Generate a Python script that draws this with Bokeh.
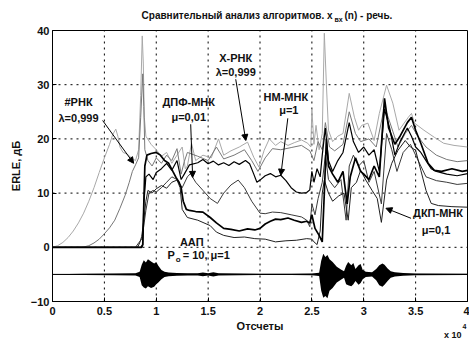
from bokeh.plotting import figure
from bokeh.layouts import column
from bokeh.models import Range1d, FixedTicker, Label, Arrow, NormalHead
from bokeh.embed import file_html
from bokeh.resources import INLINE

FONT = "Liberation Sans"

# Sample index is given in units of 10^4 samples, ERLE in dB.

# X-RLS, lambda = 0.999
xrls_x = [0, 0.05, 0.1, 0.15, 0.2, 0.25, 0.3, 0.35, 0.4, 0.45,
          0.5, 0.55, 0.58, 0.61, 0.63, 0.65, 0.68, 0.72, 0.76, 0.8,
          0.83, 0.85, 0.865, 0.875, 0.885, 0.9, 0.95, 1.0, 1.05, 1.1,
          1.15, 1.2, 1.25, 1.28, 1.3, 1.34, 1.38, 1.45, 1.53, 1.6,
          1.65, 1.72, 1.8, 1.88, 1.94, 1.99, 2.04, 2.09, 2.15, 2.2,
          2.27, 2.33, 2.4, 2.46, 2.49, 2.5, 2.52, 2.54, 2.57, 2.6,
          2.62, 2.64, 2.66, 2.7, 2.75, 2.8, 2.86, 2.91, 2.95, 2.98,
          3.04, 3.10, 3.15, 3.22, 3.28, 3.34, 3.43, 3.46, 3.49, 3.58,
          3.68, 3.77, 3.87, 4.0]
xrls_y = [0, 0.3, 0.9, 1.8, 3.0, 4.5, 6.3, 8.5, 11, 13.8,
          16.5, 19, 20.8, 21.8, 20.5, 18.5, 17.5, 17.2, 16.5, 16,
          18, 28, 39, 34, 24, 20.5, 19, 18, 16.8, 17.5,
          15.5, 17, 18.5, 14.5, 15, 19.2, 16, 17, 16.5, 20,
          17, 17.8, 18.5, 19.4, 16.6, 14.8, 17.9, 20, 18.8, 19.5,
          18.8, 19.3, 19.8, 19.2, 18.5, 25.5, 19, 22.5, 18, 21,
          39.5, 30, 21.6, 19.5, 20.5, 21, 28.4, 24, 21.6, 22.5,
          22.9, 19.7, 24.7, 29.9, 26.6, 21.6, 24, 24.7, 22.9, 21.6,
          20.3, 19.2, 18.8, 18.5]

# #RLS, lambda = 0.999
rls_x = [0, 0.3, 0.35, 0.4, 0.45, 0.5, 0.55, 0.6, 0.65, 0.7,
         0.74, 0.77, 0.8, 0.83, 0.85, 0.87, 0.88, 0.89, 0.92, 0.96,
         1.0, 1.05, 1.1, 1.15, 1.2, 1.24, 1.27, 1.3, 1.4, 1.5,
         1.58, 1.65, 1.75, 1.85, 1.92, 1.98, 2.05, 2.12, 2.2, 2.3,
         2.4, 2.48, 2.52, 2.56, 2.6, 2.63, 2.67, 2.72, 2.8, 2.86,
         2.92, 2.97, 3.05, 3.12, 3.2, 3.27, 3.33, 3.4, 3.46, 3.52,
         3.6, 3.7, 3.8, 3.9, 4.0]
rls_y = [0, 0.05, 0.3, 0.8, 1.5, 2.5, 3.6, 5, 7.2, 9.6,
         12, 14, 15.2, 16.5, 24, 32, 26, 18, 16, 15,
         16.5, 15.5, 17, 16, 18.2, 13.5, 15.8, 17.5, 16.8, 16,
         18.5, 16.3, 17, 18, 16, 14, 16.5, 18.2, 18, 18.4,
         18.8, 17.8, 16, 19.5, 18, 23, 18.5, 17.8, 19, 25,
         21, 19.5, 20, 18.5, 26, 22, 18.5, 21, 22.5, 20.5,
         18.5, 17, 16.2, 15.8, 16]

# NLMS, mu = 1
nlms_x = [0, 0.85, 0.87, 0.88, 0.9, 0.93, 0.97, 1.0, 1.05, 1.1,
          1.15, 1.2, 1.24, 1.27, 1.32, 1.4, 1.45, 1.5, 1.55, 1.6,
          1.65, 1.7, 1.75, 1.8, 1.86, 1.9, 1.94, 1.97, 2.0, 2.05,
          2.1, 2.15, 2.2, 2.25, 2.3, 2.35, 2.4, 2.45, 2.48, 2.5,
          2.52, 2.55, 2.58, 2.6, 2.63, 2.66, 2.7, 2.75, 2.8, 2.86,
          2.9, 2.95, 3.0, 3.05, 3.1, 3.15, 3.2, 3.25, 3.3, 3.35,
          3.42, 3.46, 3.5, 3.55, 3.6, 3.65, 3.7, 3.8, 3.9, 4.0]
nlms_y = [0, 0, 0.5, 8, 13, 13.5, 12.5, 13.8, 14.5, 15.5,
          14.2, 16, 12.5, 13.5, 15.2, 15.6, 16.2, 15.4, 15.9, 15.2,
          15.6, 15.1, 15.8, 15.3, 16, 15.4, 13.5, 12, 12.4, 13.2,
          13.6, 13, 13.3, 12.3, 11, 10.2, 10, 10.1, 10.6, 14,
          12, 14.5, 13, 17, 22, 16, 14, 16, 17.5, 23,
          19.5, 17.5, 18.5, 17, 18, 14, 25.5, 22, 17, 19.5,
          22, 20.5, 18.5, 17.5, 16, 14.5, 14, 13.5, 13.2, 13.6]

# DFT-LMS, mu = 0.01
dft_x = [0, 0.8, 0.83, 0.86, 0.88, 0.9, 0.93, 0.97, 1.0, 1.05,
         1.1, 1.15, 1.2, 1.25, 1.3, 1.33, 1.38, 1.45, 1.52, 1.59,
         1.65, 1.72, 1.79, 1.85, 1.92, 2.0, 2.05, 2.12, 2.2, 2.3,
         2.4, 2.45, 2.48, 2.5, 2.53, 2.56, 2.6, 2.63, 2.66, 2.72,
         2.78, 2.83, 2.86, 2.9, 2.95, 3.0, 3.05, 3.1, 3.17, 3.22,
         3.27, 3.32, 3.38, 3.45, 3.5, 3.55, 3.6, 3.7, 3.8, 3.9, 4.0]
dft_y = [0, 0, 0.8, 1.5, 4, 6.8, 10, 10.5, 10.2, 11,
         12, 13, 12.5, 11, 13, 13.6, 12, 10.5, 9, 8.1,
         10, 11.5, 12.4, 11, 8.5, 6.3, 6.2, 6.5, 6.4, 6.0,
         5.6, 5.0, 3.8, 8, 6, 9, 12, 17, 12.5, 11,
         12.5, 5, 15, 17, 15, 16, 12, 14, 8, 21,
         18, 14, 17.5, 19, 17, 15, 13, 12.3, 12, 11.6, 11.8]

# APA, P = 10, mu = 1
apa_x = [0, 0.86, 0.87, 0.88, 0.89, 0.91, 0.95, 1.0, 1.04, 1.08,
         1.12, 1.16, 1.19, 1.22, 1.24, 1.26, 1.29, 1.32, 1.38, 1.45,
         1.52, 1.58, 1.65, 1.72, 1.8, 1.88, 1.95, 2.0, 2.05, 2.1,
         2.15, 2.2, 2.27, 2.33, 2.4, 2.45, 2.48, 2.5, 2.53, 2.57,
         2.6, 2.62, 2.64, 2.66, 2.7, 2.75, 2.8, 2.84, 2.87, 2.92,
         2.97, 3.0, 3.05, 3.1, 3.15, 3.2, 3.24, 3.3, 3.35, 3.42,
         3.46, 3.5, 3.55, 3.62, 3.68, 3.75, 3.85, 3.95, 4.0]
apa_y = [0, 0, 0.5, 8, 15, 17, 17.3, 17.5, 17, 16,
         15.5, 14, 12.9, 12, 11, 8.5, 7, 6.8, 6.6, 6.5,
         5.5, 4.5, 3.5, 3.3, 3.0, 3.4, 3.2, 3.5, 4.3, 4.8,
         5.2, 5.1, 5.4, 5.0, 4.6, 4.8, 4.5, 6, 3.5, 2.2,
         1.0, 10, 20, 15, 13.5, 12, 14, 8, 13, 16.5,
         14, 13.5, 12.5, 15, 13, 27.5, 22, 19, 20.5, 23,
         24, 21.6, 19.2, 15.5, 14.2, 14, 14.5, 14, 14.2]

# DCT-LMS, mu = 0.1
dct_x = [0, 0.82, 0.84, 0.86, 0.88, 0.9, 0.92, 0.96, 1.0, 1.05,
         1.1, 1.15, 1.2, 1.23, 1.25, 1.3, 1.4, 1.52, 1.58, 1.65,
         1.75, 1.85, 1.95, 2.05, 2.15, 2.25, 2.35, 2.45, 2.5, 2.52,
         2.55, 2.58, 2.6, 2.62, 2.66, 2.7, 2.76, 2.81, 2.85, 2.88,
         2.93, 2.97, 3.02, 3.08, 3.13, 3.17, 3.22, 3.27, 3.33, 3.4,
         3.45, 3.5, 3.55, 3.6, 3.65, 3.72, 3.85, 4.0]
dct_y = [0, 0, 0.8, 2, 5, 8.5, 10.5, 10, 10.8, 11.4,
         10.9, 12, 12.4, 11, 7, 5.5, 5, 4, 2.8, 2.2,
         1.8, 1.9, 1.6, 1.5, 1.0, 1.2, 1.3, 1.6, 1.5, 1.0,
         0.5, 3, 10, 12.4, 10, 8.5, 9.5, 10, 5, 11,
         12, 14.2, 12.4, 10.5, 9, 4.6, 12.4, 15.5, 17.9, 19.7,
         18.5, 17.9, 14.2, 10.5, 8.1, 7.7, 7.5, 7.4]

# Speech input x_vx(n), drawn scaled around -5 dB: envelope above / below
speech_x = [0, 0.3, 0.6, 0.8, 0.84, 0.86, 0.88, 0.9, 0.92, 0.95,
            0.98, 1.0, 1.02, 1.05, 1.08, 1.12, 1.2, 1.3, 1.4, 1.45,
            1.5, 1.55, 1.6, 1.8, 2.0, 2.3, 2.5, 2.57, 2.59, 2.61,
            2.63, 2.65, 2.67, 2.7, 2.74, 2.78, 2.81, 2.83, 2.85, 2.88,
            2.9, 2.92, 2.95, 2.97, 2.99, 3.02, 3.08, 3.12, 3.15, 3.18,
            3.2, 3.23, 3.26, 3.3, 3.38, 3.5, 4.0]
speech_up = [0.05, 0.1, 0.15, 0.2, 0.5, 1.8, 2.6, 2.2, 2.8, 2.4,
             2.0, 2.3, 1.6, 0.8, 0.5, 0.35, 0.25, 0.2, 0.2, 0.35,
             0.2, 0.4, 0.2, 0.15, 0.12, 0.12, 0.15, 0.3, 2.5, 3.8,
             3.2, 3.6, 2.8, 2.3, 1.4, 0.9, 0.6, 1.6, 2.3, 1.7,
             2.1, 1.0, 1.7, 1.9, 0.8, 0.5, 0.4, 1.0, 1.7, 2.0,
             1.8, 1.1, 0.6, 0.4, 0.25, 0.15, 0.1]
speech_dn = [0.05, 0.1, 0.15, 0.2, 0.5, 2.0, 2.4, 2.6, 2.2, 2.5,
             2.3, 1.8, 1.5, 0.9, 0.5, 0.35, 0.25, 0.2, 0.2, 0.35,
             0.2, 0.4, 0.2, 0.15, 0.12, 0.12, 0.15, 0.3, 3.0, 4.3,
             4.0, 4.4, 3.0, 2.5, 1.5, 1.0, 0.6, 1.8, 2.0, 2.2,
             1.8, 1.2, 1.9, 1.6, 0.9, 0.5, 0.4, 1.1, 2.0, 2.3,
             1.9, 1.2, 0.6, 0.4, 0.25, 0.15, 0.1]
speech_level = -5

x_ticks = [0, 0.5, 1, 1.5, 2, 2.5, 3, 3.5, 4]
x_tick_labels = ["0", "0.5", "1", "1.5", "2", "2.5", "3", "3.5", "4"]
y_ticks = [-10, 0, 10, 20, 30, 40]

W = 469
X_LO, X_HI = x_ticks[0], x_ticks[-1]
Y_LO, Y_HI = y_ticks[0], y_ticks[-1]


def strip(height):
    """Axis-less band used for text that sits outside the plot frame."""
    return figure(width=W, height=height, output_backend="svg", toolbar_location=None,
                  x_range=Range1d(0, 1), y_range=Range1d(0, 1),
                  x_axis_type=None, y_axis_type=None, min_border=0,
                  outline_line_color=None)


def text(fig, x, y, s, size="11px", align="center", units="data"):
    fig.add_layout(Label(x=x, y=y, x_units=units, y_units=units, text=s,
                         text_font=FONT, text_font_size=size,
                         text_font_style="bold", text_color="#111111",
                         text_align=align, text_baseline="middle"))


# ---- title band ----
top = strip(22)
text(top, 332, 15, "Сравнительный анализ алгоритмов. x", size="10px", align="right", units="canvas")
text(top, 334, 18.5, "вх", size="7px", align="left", units="canvas")
text(top, 344, 15, "(n) - речь.", size="10px", align="left", units="canvas")

# ---- main plot ----
p = figure(width=W, height=297, output_backend="svg", toolbar_location=None,
           x_range=Range1d(X_LO, X_HI), y_range=Range1d(Y_LO, Y_HI),
           min_border_left=52, min_border_right=2,
           min_border_top=8, min_border_bottom=18)

p.outline_line_color = "black"
p.outline_line_width = 1
p.grid.visible = False

for ax in (p.xaxis[0], p.yaxis[0]):
    ax.axis_line_color = "black"
    ax.major_tick_in = 4
    ax.major_tick_out = 0
    ax.minor_tick_line_color = None
    ax.major_label_text_font = FONT
    ax.major_label_text_font_size = "11px"
    ax.major_label_text_font_style = "bold"
    ax.major_label_text_color = "#111111"
    ax.axis_label_text_font = FONT
    ax.axis_label_text_font_size = "11px"
    ax.axis_label_text_font_style = "bold"
    ax.axis_label_text_color = "#111111"

p.xaxis.ticker = FixedTicker(ticks=x_ticks)
p.xaxis.major_label_overrides = dict(zip(x_ticks, x_tick_labels))
p.yaxis.ticker = FixedTicker(ticks=y_ticks)
p.yaxis.axis_label = "ERLE, дБ"
p.xaxis.major_label_standoff = 5
p.yaxis.major_label_standoff = 3
p.yaxis.axis_label_standoff = 6

# dotted grid at the inner major ticks, under the curves
gx = x_ticks[1:-1]
gy = y_ticks[1:-1]
p.segment(x0=gx, y0=[Y_LO] * len(gx), x1=gx, y1=[Y_HI] * len(gx),
          line_color="black", line_dash="dotted", line_width=1)
p.segment(x0=[X_LO] * len(gy), y0=gy, x1=[X_HI] * len(gy), y1=gy,
          line_color="black", line_dash="dotted", line_width=1)

# Speech input
p.varea(x=speech_x,
        y1=[speech_level - d for d in speech_dn],
        y2=[speech_level + u for u in speech_up],
        fill_color="black")
p.line(x=[X_LO, X_HI], y=[speech_level, speech_level],
       line_color="black", line_width=1)

# ERLE curves
p.line(xrls_x, xrls_y, line_color="#a8a8a8", line_width=1)
p.line(rls_x, rls_y, line_color="#777777", line_width=1)
p.line(dft_x, dft_y, line_color="#3a3a3a", line_width=1)
p.line(dct_x, dct_y, line_color="#202020", line_width=1)
p.line(nlms_x, nlms_y, line_color="#000000", line_width=1.2)
p.line(apa_x, apa_y, line_color="#000000", line_width=1.7)


def arrow(x0, y0, x1, y1):
    p.add_layout(Arrow(end=NormalHead(size=6, fill_color="black", line_color="black"),
                       x_start=x0, y_start=y0, x_end=x1, y_end=y1,
                       line_color="black", line_width=1))


text(p, 0.251, 26.75, "#РНК")
text(p, 0.251, 23.8, "λ=0,999")
arrow(0.483, 23.4, 0.782, 15.5)

text(p, 1.313, 26.75, "ДПФ-МНК")
text(p, 1.313, 24.0, "μ=0,01")
arrow(1.332, 22.7, 1.351, 12.9)

text(p, 1.766, 34.9, "X-РНК")
text(p, 1.766, 32.3, "λ=0,999")
arrow(1.766, 31.0, 1.863, 19.7)

text(p, 2.249, 27.7, "НМ-МНК")
text(p, 2.278, 25.3, "μ=1")
arrow(2.268, 23.8, 2.201, 13.3)

text(p, 3.716, 6.27, "ДКП-МНК")
text(p, 3.697, 3.14, "μ=0,1")
arrow(3.456, 5.35, 3.214, 7.2)

text(p, 1.342, 0.92, "ААП")
text(p, 1.178, -1.48, "P", align="right")
text(p, 1.187, -2.3, "o", size="8px", align="left")
text(p, 1.255, -1.48, "= 10, μ=1", align="left")

# ---- x-axis title band ----
bottom = strip(19)
text(bottom, 259.5, 6, "Отсчеты", size="11px", units="canvas")
text(bottom, 461, 15, "x 10", size="9px", align="right", units="canvas")
text(bottom, 462, 7, "4", size="7px", align="left", units="canvas")

layout = column(top, p, bottom, spacing=0)
open("out.html", "w").write(file_html(layout, INLINE))
